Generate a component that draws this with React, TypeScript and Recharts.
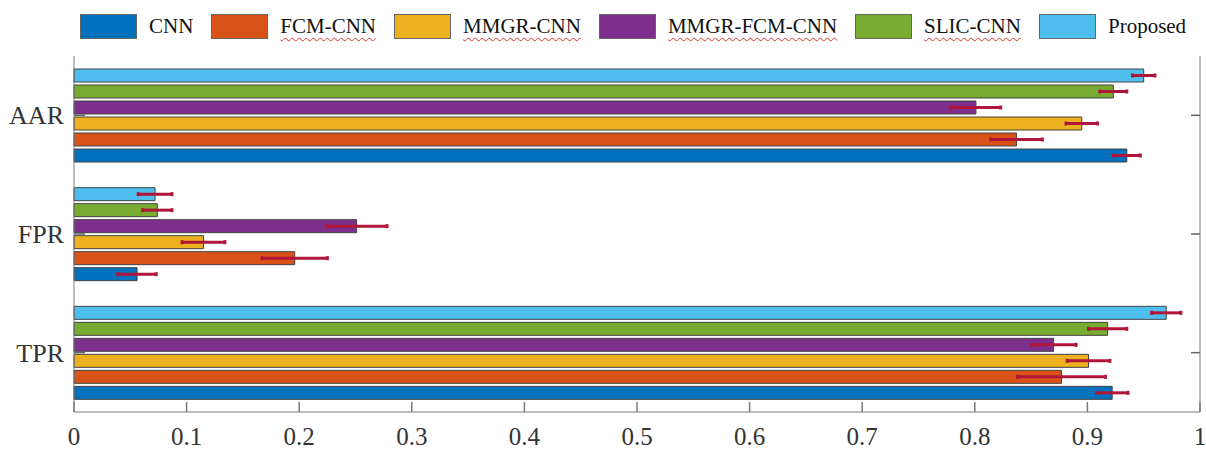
import { Bar, BarChart, ErrorBar, XAxis, YAxis } from 'recharts';

const categories = ['AAR', 'FPR', 'TPR'];
const xTicks = [0, 0.1, 0.2, 0.3, 0.4, 0.5, 0.6, 0.7, 0.8, 0.9, 1];

// values per category (AAR, FPR, TPR)
const cnn = [0.935, 0.056, 0.922];
const fcmCnn = [0.837, 0.196, 0.877];
const mmgrCnn = [0.895, 0.115, 0.901];
const mmgrFcmCnn = [0.801, 0.251, 0.87];
const slicCnn = [0.923, 0.074, 0.918];
const proposed = [0.95, 0.072, 0.97];

// symmetric error bar half-widths
const cnnErr = [0.012, 0.017, 0.014];
const fcmCnnErr = [0.023, 0.029, 0.039];
const mmgrCnnErr = [0.014, 0.019, 0.019];
const mmgrFcmCnnErr = [0.022, 0.027, 0.02];
const slicCnnErr = [0.012, 0.013, 0.017];
const proposedErr = [0.01, 0.015, 0.013];

const series = [
  { key: 'cnn', name: 'CNN', color: '#0072BD', values: cnn, errors: cnnErr, flagged: false },
  { key: 'fcm', name: 'FCM-CNN', color: '#D95319', values: fcmCnn, errors: fcmCnnErr, flagged: true },
  { key: 'mmgr', name: 'MMGR-CNN', color: '#EDB120', values: mmgrCnn, errors: mmgrCnnErr, flagged: true },
  { key: 'mmgrfcm', name: 'MMGR-FCM-CNN', color: '#7E2F8E', values: mmgrFcmCnn, errors: mmgrFcmCnnErr, flagged: true },
  { key: 'slic', name: 'SLIC-CNN', color: '#77AC30', values: slicCnn, errors: slicCnnErr, flagged: true },
  { key: 'proposed', name: 'Proposed', color: '#4DBEEE', values: proposed, errors: proposedErr, flagged: false }
];

const chartData = categories.map((name, i) => {
  const row: Record<string, string | number> = { name };
  series.forEach((s) => {
    row[s.key] = s.values[i];
    row[s.key + 'Err'] = s.errors[i];
  });
  return row;
});

const FONT = '"Liberation Serif", "Times New Roman", serif';
const AXIS_COLOR = '#7a7a7a';

// tickSize is negative so the tick marks point into the plot box;
// the label is pushed back out below the axis line
function BottomTick({ x, y, payload }: any) {
  return (
    <text x={x} y={y + 43} textAnchor="middle" fill="#333" fontSize={25} fontFamily={FONT}>
      {String(payload.value)}
    </text>
  );
}

function LeftTick({ x, y, payload }: any) {
  return (
    <g>
      <line x1={x} x2={x + 11} y1={y} y2={y} stroke="#666" strokeWidth={1.5} />
      <text x={x - 10} y={y + 9} textAnchor="end" fill="#333" fontSize={26} fontFamily={FONT}>
        {payload.value}
      </text>
    </g>
  );
}

function RightTick({ x, y }: any) {
  return <line x1={x} x2={x - 9} y1={y} y2={y} stroke="#666" strokeWidth={1.5} />;
}

function ChartLegend() {
  return (
    <div
      style={{
        position: 'absolute',
        left: 80,
        top: 13,
        display: 'flex',
        alignItems: 'center',
        fontFamily: FONT,
        fontSize: 21,
        color: '#111'
      }}
    >
      {series.map((s) => (
        <div key={s.key} style={{ display: 'flex', alignItems: 'center', marginRight: 18 }}>
          <div
            style={{
              width: 55,
              height: 23,
              background: s.color,
              border: '1.5px solid #666',
              marginRight: 12
            }}
          />
          <span
            style={{
              lineHeight: '26px',
              textDecoration: s.flagged ? 'underline wavy #e03030' : 'none',
              textDecorationThickness: '1px',
              textUnderlineOffset: '4px'
            }}
          >
            {s.name}
          </span>
        </div>
      ))}
    </div>
  );
}

export default function App() {
  return (
    <div style={{ position: 'absolute', left: 0, top: 0, width: 1206, height: 449, background: '#fff' }}>
      <ChartLegend />
      <BarChart
        width={1206}
        height={449}
        data={chartData}
        layout="vertical"
        margin={{ top: 56, right: 0, bottom: 0, left: 0 }}
        barSize={13}
        barGap={3}
      >
        <XAxis
          type="number"
          domain={[0, 1]}
          ticks={xTicks}
          height={37}
          stroke={AXIS_COLOR}
          tickLine={{ stroke: AXIS_COLOR, strokeWidth: 1.5 }}
          tickSize={-10}
          tickMargin={0}
          tick={<BottomTick />}
          interval={0}
        />
        <XAxis
          xAxisId="top"
          orientation="top"
          type="number"
          domain={[0, 1]}
          ticks={xTicks}
          height={0}
          stroke={AXIS_COLOR}
          tickLine={{ stroke: AXIS_COLOR, strokeWidth: 1.5 }}
          tickSize={-10}
          tickMargin={0}
          tick={false}
          interval={0}
        />
        <YAxis
          type="category"
          dataKey="name"
          width={74}
          stroke={AXIS_COLOR}
          tickLine={false}
          tickSize={0}
          tickMargin={0}
          tick={<LeftTick />}
        />
        <YAxis
          yAxisId="right"
          orientation="right"
          type="category"
          dataKey="name"
          width={6}
          stroke={AXIS_COLOR}
          tickLine={false}
          tickSize={0}
          tickMargin={0}
          tick={<RightTick />}
        />
        {[...series].reverse().map((s) => (
          <Bar
            key={s.key}
            dataKey={s.key}
            name={s.name}
            fill={s.color}
            stroke="#444"
            strokeWidth={1}
            isAnimationActive={false}
          >
            <ErrorBar
              dataKey={s.key + 'Err'}
              direction="x"
              stroke="#B0153A"
              strokeWidth={3}
              width={2}
              isAnimationActive={false}
            />
          </Bar>
        ))}
      </BarChart>
    </div>
  );
}
